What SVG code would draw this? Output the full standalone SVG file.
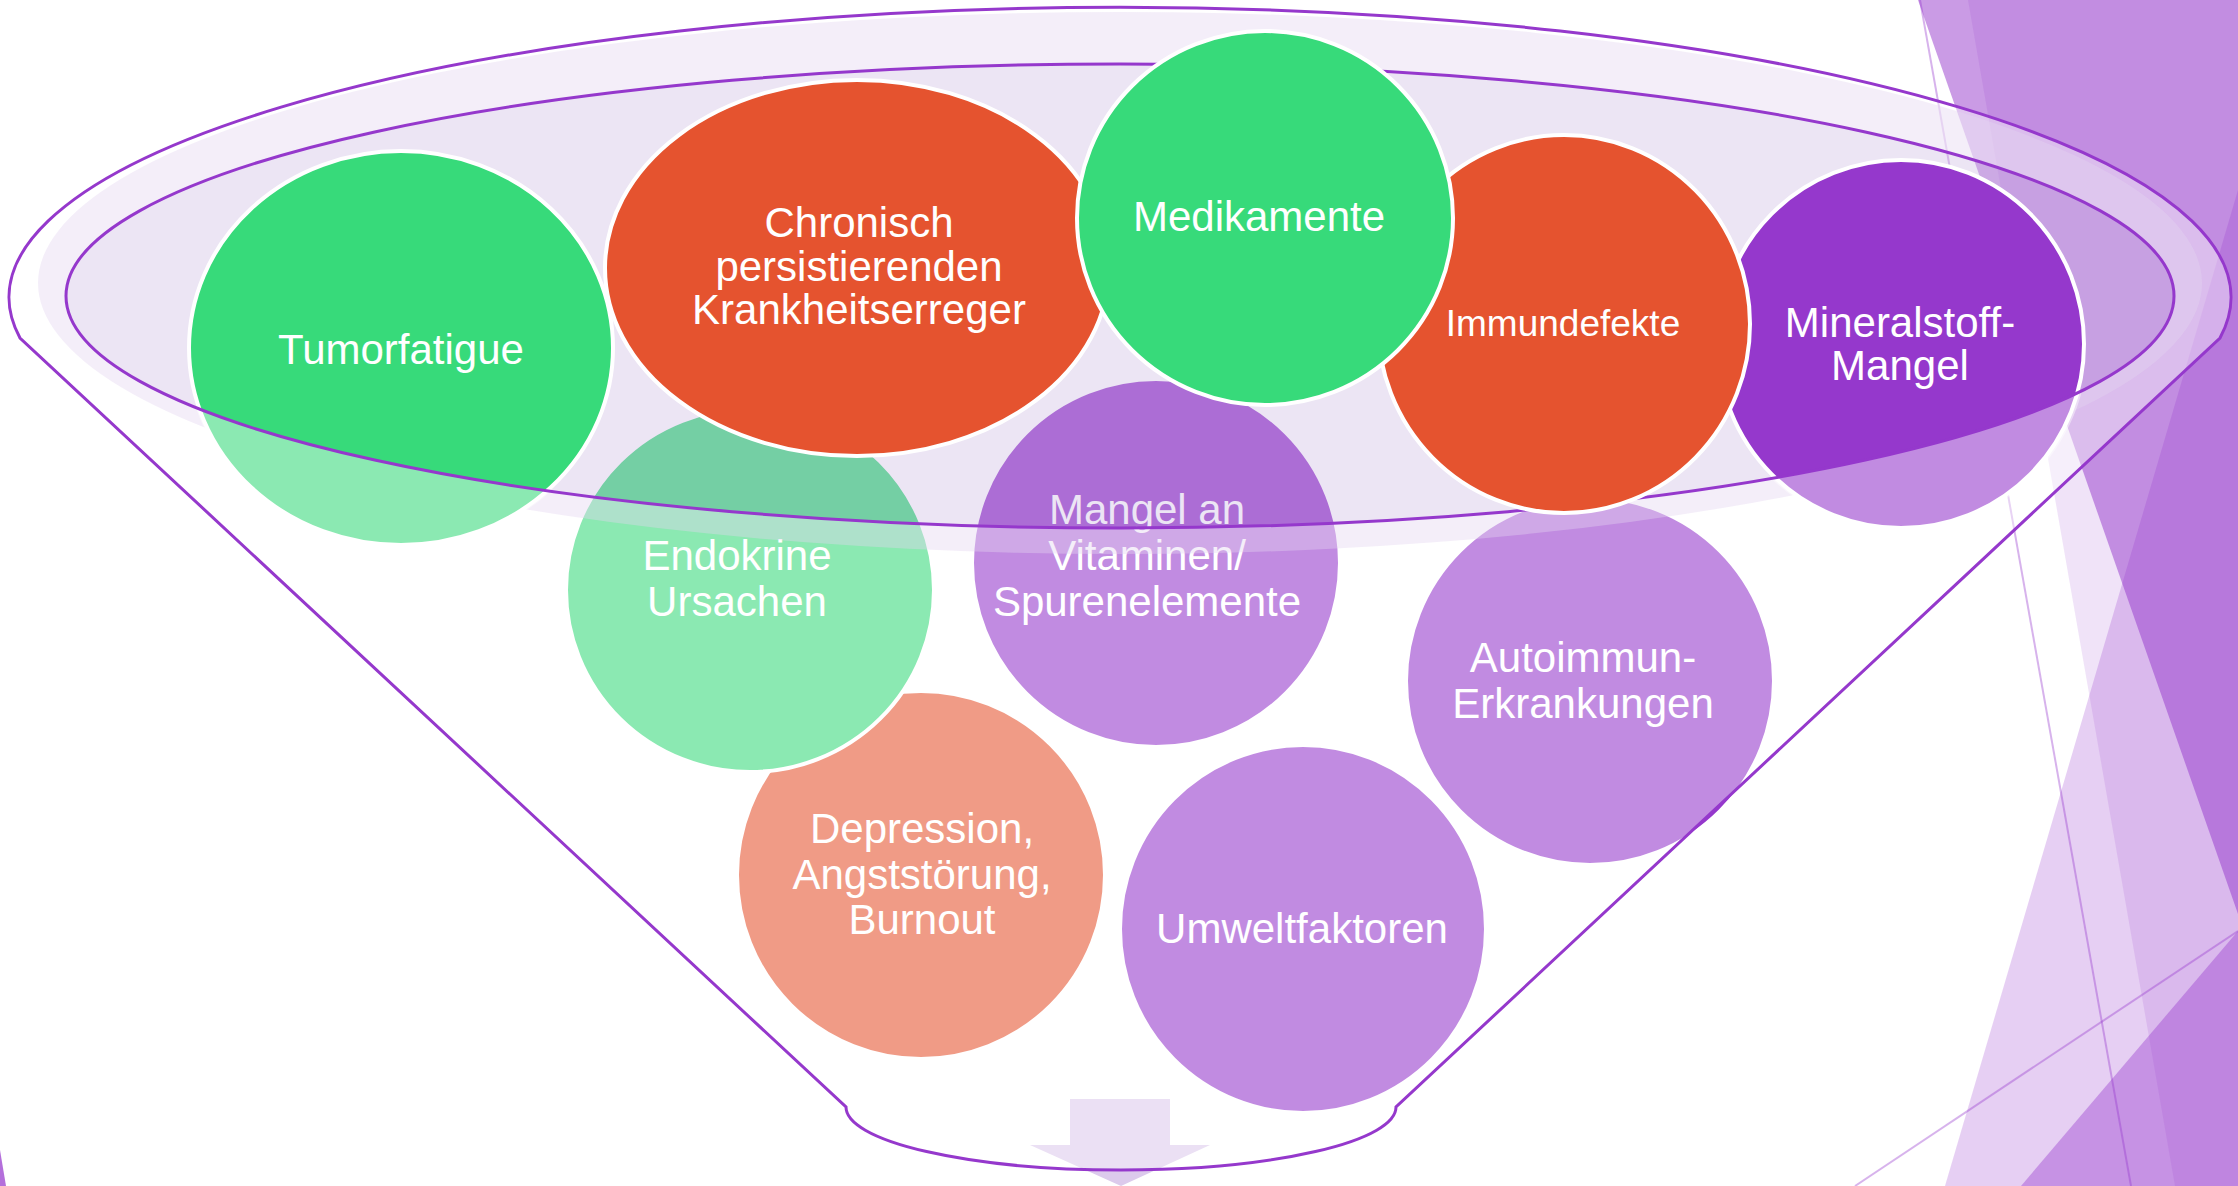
<svg xmlns="http://www.w3.org/2000/svg" width="2238" height="1186" viewBox="0 0 2238 1186">
  <style>
    .t { font-family: "Liberation Sans", Arial, sans-serif; font-size: 42px; fill: #ffffff; text-anchor: middle; }
    .c { stroke: #ffffff; stroke-width: 4; }
    .green { fill: #37DA7A; }
    .red { fill: #E5532F; }
    .purple { fill: #9538CC; }
    .bgs { fill: #9538CC; }
    .thin { stroke: #9538CC; stroke-opacity: 0.38; stroke-width: 2; fill: none; }
    .fstroke { fill: none; stroke: #9538CC; stroke-width: 3; }
  </style>
  <defs>
    <path id="outlinePath" d="M 20 338 A 1111 290 0 1 1 2220 338 L 1396 1107 A 275 63 0 0 1 846 1107 Z"/>
    <clipPath id="frontA">
      <ellipse cx="401" cy="348" rx="215" ry="200"/>
      <ellipse cx="857" cy="268" rx="255" ry="191"/>
      <ellipse cx="1901" cy="344" rx="187" ry="187"/>
    </clipPath>
  </defs>

  <rect x="0" y="0" width="2238" height="1186" fill="#ffffff"/>

  <g id="background">
    <polygon class="bgs" fill-opacity="0.5" points="1918,0 2238,0 2238,914"/>
    <polygon class="bgs" fill-opacity="0.14" points="1968,0 2238,0 2238,1186 2175,1186"/>
    <polygon class="bgs" fill-opacity="0.24" points="1945,1186 2238,190 2238,1186"/>
    <polygon class="bgs" fill-opacity="0.4" points="2021,1186 2238,931 2238,1186"/>
    <line class="thin" x1="1920" y1="0" x2="2131" y2="1186"/>
    <line class="thin" x1="1855" y1="1186" x2="2238" y2="931"/>
    <polygon fill="#B46FDB" points="0,1150 6,1186 0,1186"/>
  </g>

  <g id="node-depression">
    <ellipse class="c red" cx="921" cy="875" rx="184" ry="184"/>
    <text class="t" x="922" y="843">Depression,</text>
    <text class="t" x="922" y="889">Angststörung,</text>
    <text class="t" x="922" y="934">Burnout</text>
  </g>
  <g id="node-endokrine">
    <ellipse class="c green" cx="750" cy="590" rx="184" ry="182"/>
    <text class="t" x="737" y="570">Endokrine</text>
    <text class="t" x="737" y="616">Ursachen</text>
  </g>
  <g id="node-mangel">
    <ellipse class="c purple" cx="1156" cy="563" rx="184" ry="184"/>
    <text class="t" x="1147" y="524">Mangel an</text>
    <text class="t" x="1147" y="570">Vitaminen/</text>
    <text class="t" x="1147" y="616">Spurenelemente</text>
  </g>
  <g id="node-umwelt">
    <ellipse class="c purple" cx="1303" cy="929" rx="183" ry="184"/>
    <text class="t" x="1302" y="943">Umweltfaktoren</text>
  </g>
  <g id="node-autoimmun">
    <ellipse class="c purple" cx="1590" cy="681" rx="184" ry="184"/>
    <text class="t" x="1583" y="672">Autoimmun-</text>
    <text class="t" x="1583" y="718">Erkrankungen</text>
  </g>

  <g id="connectors">
    <polygon fill="#DCCAEC" points="1070,1099 1170,1099 1170,1145 1210,1145 1121,1186 1030,1145 1070,1145"/>
  </g>

  <g id="funnel-fill">
    <path fill="#ffffff" fill-opacity="0.42" fill-rule="evenodd" d="M 20 338 A 1111 290 0 1 1 2220 338 L 1396 1107 A 275 63 0 0 1 846 1107 Z M 66 296 A 1054 232 0 1 0 2174 296 A 1054 232 0 1 0 66 296 Z"/>
    <path fill="#E3D5F0" fill-opacity="0.4" fill-rule="evenodd" d="M 38 283 A 1082 271 0 1 0 2202 283 A 1082 271 0 1 0 38 283 Z M 66 296 A 1054 232 0 1 0 2174 296 A 1054 232 0 1 0 66 296 Z"/>
    <ellipse cx="1120" cy="296" rx="1054" ry="232" fill="#CFBDE4" fill-opacity="0.4"/>
  </g>

  <g id="node-tumorfatigue">
    <ellipse class="c green" cx="401" cy="348" rx="212" ry="197"/>
    <text class="t" x="401" y="364">Tumorfatigue</text>
  </g>
  <g id="node-chronisch">
    <ellipse class="c red" cx="857" cy="268" rx="252" ry="188"/>
    <text class="t" x="859" y="237">Chronisch</text>
    <text class="t" x="859" y="281">persistierenden</text>
    <text class="t" x="859" y="324">Krankheitserreger</text>
  </g>
  <g id="node-mineralstoff">
    <ellipse class="c purple" cx="1901" cy="344" rx="183" ry="184"/>
    <text class="t" x="1900" y="337">Mineralstoff-</text>
    <text class="t" x="1900" y="380">Mangel</text>
  </g>

  <g id="funnel-front">
    <path clip-path="url(#frontA)" fill="#ffffff" fill-opacity="0.42" fill-rule="evenodd" d="M 20 338 A 1111 290 0 1 1 2220 338 L 1396 1107 A 275 63 0 0 1 846 1107 Z M 66 296 A 1054 232 0 1 0 2174 296 A 1054 232 0 1 0 66 296 Z"/>
    <use href="#outlinePath" class="fstroke"/>
    <ellipse class="fstroke" cx="1120" cy="296" rx="1054" ry="232"/>
  </g>

  <g id="node-immundefekte">
    <ellipse class="c red" cx="1564" cy="324" rx="186" ry="189"/>
    <text class="t" x="1563" y="336" style="font-size:37px">Immundefekte</text>
  </g>
  <g id="node-medikamente">
    <ellipse class="c green" cx="1265" cy="218" rx="188" ry="187"/>
    <text class="t" x="1259" y="231">Medikamente</text>
  </g>
</svg>
